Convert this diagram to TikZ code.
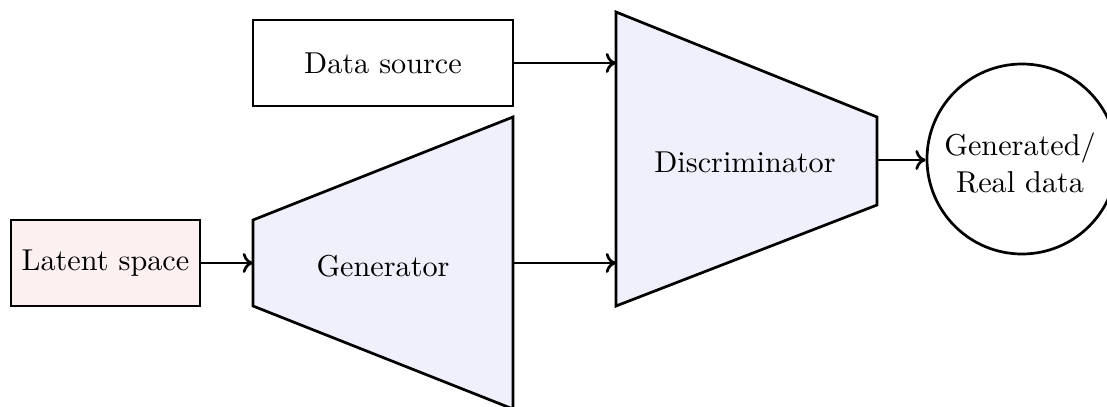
\documentclass[tikz,border=0pt]{standalone}
\usetikzlibrary{arrows.meta}
\definecolor{latentfill}{HTML}{FDF0F0}
\definecolor{netfill}{HTML}{F0F0FC}
\begin{document}
\begin{tikzpicture}[x=0.331pt,y=-0.331pt,
  every node/.style={font=\fontsize{10}{12}\selectfont},
  boxstyle/.style={draw,line width=0.9pt,rectangle,inner sep=0pt},
  netstyle/.style={draw,line width=0.9pt,fill=netfill,line join=miter},
  conn/.style={line width=0.9pt,-{To[length=3.4pt,width=6.6pt]}}]
\useasboundingbox (0,0) rectangle (1107,407);
% Latent space
\node[boxstyle,fill=latentfill,minimum width=189*0.331pt,minimum height=86*0.331pt] (latent) at (105.5,263) {Latent space};
% Data source
\node[boxstyle,fill=white,minimum width=260*0.331pt,minimum height=86*0.331pt] (data) at (383,63) {Data source};
% Generator
\coordinate (g1) at (253,220);
\coordinate (g2) at (513,117);
\coordinate (g3) at (513,409);
\coordinate (g4) at (253,306);
\draw[netstyle] (g1) -- (g2) -- (g3) -- (g4) -- cycle;
\node (gen) at (383,266) {Generator};
\coordinate (genin) at (253,263);
\coordinate (genout) at (513,263);
% Discriminator
\coordinate (d1) at (616,12);
\coordinate (d2) at (877,117);
\coordinate (d3) at (877,205);
\coordinate (d4) at (616,306);
\draw[netstyle] (d1) -- (d2) -- (d3) -- (d4) -- cycle;
\node (disc) at (745,162) {Discriminator};
\coordinate (discin1) at (616,63);
\coordinate (discin2) at (616,263);
\coordinate (discout) at (877,160);
% Output
\node[draw,line width=0.9pt,circle,minimum size=190*0.331pt,inner sep=0pt] (out) at (1022,159) {};
\node[align=center,inner sep=0pt] (outtext) at (1020,163) {Generated/\\Real data};
% Connectors
\draw[conn] (latent.east) -- (genin);
\draw[conn] (genout) -- (discin2);
\draw[conn] (data.east) -- (discin1);
\draw[conn] (discout) -- (out.west |- discout);
\end{tikzpicture}
\end{document}
